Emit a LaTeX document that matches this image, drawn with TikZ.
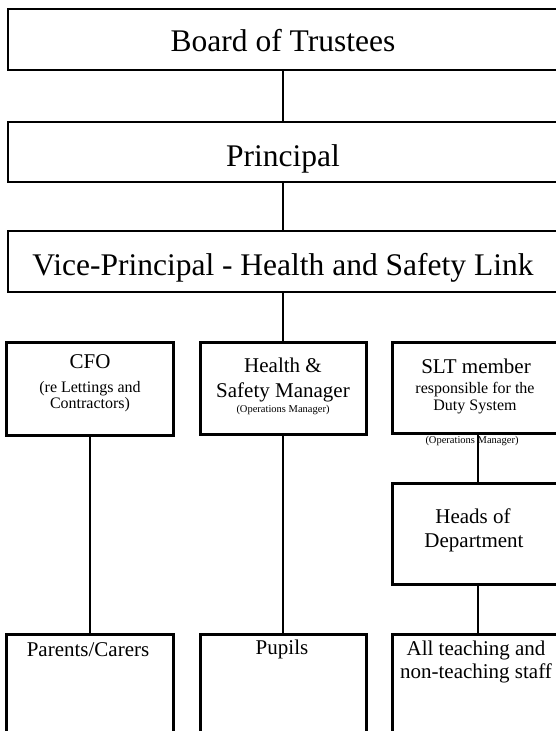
\documentclass[tikz,border=0pt]{standalone}
\usepackage{fontspec}
\setmainfont{Liberation Serif}
\usepackage{tikz}
\tikzstyle{chart}=[x=1pt,y=-1pt]
\tikzstyle{head}=[rectangle, draw, line width=2pt, inner sep=0pt, minimum width=550pt, minimum height=60pt]
\tikzstyle{post}=[rectangle, draw, line width=3pt, inner sep=0pt]
\tikzstyle{ttl}=[inner sep=0pt, anchor=base, font=\fontsize{31.5}{36}\selectfont]
\tikzstyle{nm}=[inner sep=0pt, anchor=base, font=\fontsize{21}{24}\selectfont]
\tikzstyle{sub}=[inner sep=0pt, anchor=base, font=\fontsize{16}{18}\selectfont]
\tikzstyle{note}=[inner sep=0pt, anchor=base, font=\fontsize{10.5}{12}\selectfont]
\tikzstyle{link}=[-, line width=2.4pt]
\begin{document}
\begin{tikzpicture}[chart]
				\useasboundingbox (0,0) rectangle (556,731);
				\clip (0,0) rectangle (556,731);
				
				%The top of the chain
				\draw (283,39.5) node[head, minimum height=61pt] (board) {};
				\draw (283,152) node[head] (princ) {};
				\draw (283,261.5) node[head, minimum height=61pt] (vp) {};
				\draw (283,51) node[ttl] (t-board) {Board of Trustees};
				\draw (283,166) node[ttl] (t-princ) {Principal};
				\draw (283,275) node[ttl] (t-vp) {Vice-Principal - Health and Safety Link};
				
				%The middle row
				\draw (90,389) node[post, minimum width=167pt, minimum height=93pt] (cfo) {};
				\draw (283,388) node[post, minimum width=166pt, minimum height=92pt] (hs) {};
				\draw (478,388) node[post, minimum width=172pt, minimum height=91pt] (slt) {};
				\draw (90,368) node[nm] (t-cfo1) {CFO};
				\draw (90,392) node[sub] (t-cfo2) {(re Lettings and};
				\draw (90,408) node[sub] (t-cfo3) {Contractors)};
				\draw (283,372) node[nm] (t-hs1) {Health \&};
				\draw (283,397) node[nm] (t-hs2) {Safety Manager};
				\draw (283,412) node[note] (t-hs3) {(Operations Manager)};
				\draw (476,373) node[nm] (t-slt1) {SLT member};
				\draw (475,393) node[sub] (t-slt2) {responsible for the};
				\draw (475,410) node[sub] (t-slt3) {Duty System};
				\draw (472,443) node[note] (t-ops) {(Operations Manager)};
				
				%The heads of department
				\draw (478,533.5) node[post, minimum width=172pt, minimum height=101pt] (heads) {};
				\draw (473,523) node[nm] (t-heads1) {Heads of};
				\draw (474,547) node[nm] (t-heads2) {Department};
				
				%The bottom row
				\draw (90,702) node[post, minimum width=167pt, minimum height=136pt] (parents) {};
				\draw (283,702) node[post, minimum width=166pt, minimum height=136pt] (pupils) {};
				\draw (478,702) node[post, minimum width=172pt, minimum height=136pt] (staff) {};
				\draw (88,656) node[nm] (t-parents) {Parents/Carers};
				\draw (282,654) node[nm] (t-pupils) {Pupils};
				\draw (476,655) node[nm] (t-staff1) {All teaching and};
				\draw (476,678) node[nm] (t-staff2) {non-teaching staff};
				
				%The links
				\draw[link] (board) -- (princ);
				\draw[link] (princ) -- (vp);
				\draw[link] (vp) -- (hs);
				\draw[link] (cfo) -- (parents);
				\draw[link] (hs) -- (pupils);
				\draw[link] (slt) -- (heads);
				\draw[link] (heads) -- (staff);
			\end{tikzpicture}
\end{document}
